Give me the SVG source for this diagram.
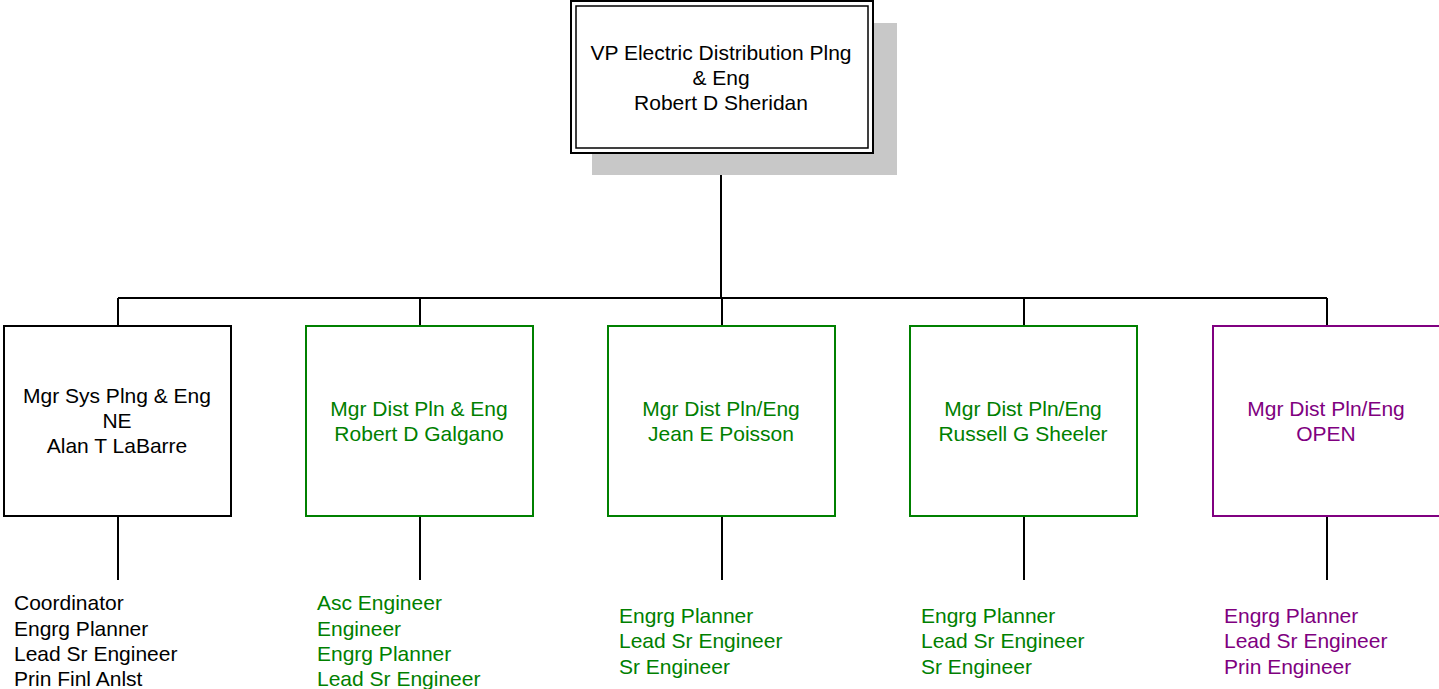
<svg xmlns="http://www.w3.org/2000/svg" width="1439" height="689" viewBox="0 0 1439 689">
<style>
text{font-family:"Liberation Sans",Arial,sans-serif;font-size:21px}
.c{text-anchor:middle}
.k{fill:#000}
.g{fill:#008000}
.p{fill:#800080}
.bk{fill:#fff;stroke:#000;stroke-width:2}
.bg{fill:#fff;stroke:#008000;stroke-width:2}
.bp{fill:#fff;stroke:#800080;stroke-width:2}
.ln{stroke:#000;stroke-width:2;fill:none}
</style>
<rect width="1439" height="689" fill="#fff"/>
<g id="connectors">
<path class="ln" d="M721 154V298M118 298H1327M118 298V326M420 298V326M722 298V326M1024 298V326M1327 298V326"/>
<path class="ln" d="M118 516V580M420 516V580M722 516V580M1024 516V580M1327 516V580"/>
</g>
<g id="vp">
<rect x="592" y="23" width="305" height="152" fill="#c8c8c8"/>
<rect x="571" y="1" width="302" height="152" class="bk"/>
<rect x="576" y="6" width="292" height="142" fill="none" stroke="#000" stroke-width="1.5"/>
<text class="c k" x="721" y="60">VP Electric Distribution Plng</text>
<text class="c k" x="721" y="85">&amp; Eng</text>
<text class="c k" x="721" y="110">Robert D Sheridan</text>
</g>
<g id="n1">
<rect x="4" y="326" width="227" height="190" class="bk"/>
<text class="c k" x="117" y="403">Mgr Sys Plng &amp; Eng</text>
<text class="c k" x="117" y="428">NE</text>
<text class="c k" x="117" y="453">Alan T LaBarre</text>
<text class="k" x="14" y="610">Coordinator</text>
<text class="k" x="14" y="636">Engrg Planner</text>
<text class="k" x="14" y="661">Lead Sr Engineer</text>
<text class="k" x="14" y="686">Prin Finl Anlst</text>
</g>
<g id="n2">
<rect x="306" y="326" width="227" height="190" class="bg"/>
<text class="c g" x="419" y="416">Mgr Dist Pln &amp; Eng</text>
<text class="c g" x="419" y="441">Robert D Galgano</text>
<text class="g" x="317" y="610">Asc Engineer</text>
<text class="g" x="317" y="636">Engineer</text>
<text class="g" x="317" y="661">Engrg Planner</text>
<text class="g" x="317" y="686">Lead Sr Engineer</text>
</g>
<g id="n3">
<rect x="608" y="326" width="227" height="190" class="bg"/>
<text class="c g" x="721" y="416">Mgr Dist Pln/Eng</text>
<text class="c g" x="721" y="441">Jean E Poisson</text>
<text class="g" x="619" y="623">Engrg Planner</text>
<text class="g" x="619" y="648">Lead Sr Engineer</text>
<text class="g" x="619" y="674">Sr Engineer</text>
</g>
<g id="n4">
<rect x="910" y="326" width="227" height="190" class="bg"/>
<text class="c g" x="1023" y="416">Mgr Dist Pln/Eng</text>
<text class="c g" x="1023" y="441">Russell G Sheeler</text>
<text class="g" x="921" y="623">Engrg Planner</text>
<text class="g" x="921" y="648">Lead Sr Engineer</text>
<text class="g" x="921" y="674">Sr Engineer</text>
</g>
<g id="n5">
<rect x="1213" y="326" width="227" height="190" class="bp"/>
<text class="c p" x="1326" y="416">Mgr Dist Pln/Eng</text>
<text class="c p" x="1326" y="441">OPEN</text>
<text class="p" x="1224" y="623">Engrg Planner</text>
<text class="p" x="1224" y="648">Lead Sr Engineer</text>
<text class="p" x="1224" y="674">Prin Engineer</text>
</g>
</svg>
